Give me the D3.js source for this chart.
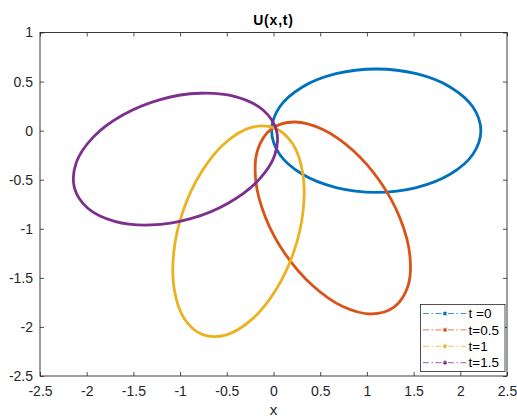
<!DOCTYPE html>
<html>
<head>
<meta charset="utf-8">
<script src="https://cdn.jsdelivr.net/npm/d3@7"></script>
<style>
  html, body { margin: 0; padding: 0; background: #fff; }
  svg { display: block; }
  text { font-family: "Liberation Sans", Arial, Helvetica, sans-serif; }
</style>
</head>
<body>
<svg id="chart" width="517" height="417"></svg>
<script>
// Series labels, one per time step
const seriesLabels = ["t =0", "t=0.5", "t=1", "t=1.5"];
const seriesColors = ["#0072BD", "#D95319", "#EDB120", "#7E2F8E"];

// Closed curves U(x,t): sampled [x, y] points around each loop
const curveT0 = [
  [2.220, 0.000], [2.135, 0.240], [1.890, 0.445], [1.530, 0.580], [1.100, 0.628], [0.670, 0.580],
  [0.310, 0.445], [0.065, 0.240], [-0.020, 0.000], [0.065, -0.240], [0.310, -0.445], [0.670, -0.580],
  [1.100, -0.628], [1.530, -0.580], [1.890, -0.445], [2.135, -0.240]
];
const curveT05 = [
  [1.294, -1.796], [1.439, -1.586], [1.460, -1.270], [1.356, -0.896], [1.143, -0.521], [0.852, -0.202],
  [0.528, 0.012], [0.221, 0.088], [-0.024, 0.016], [-0.169, -0.194], [-0.190, -0.510], [-0.086, -0.884],
  [0.127, -1.259], [0.418, -1.578], [0.742, -1.792], [1.049, -1.868]
];
const curveT1 = [
  [0.008, 0.028], [-0.247, 0.030], [-0.521, -0.129], [-0.773, -0.424], [-0.965, -0.810], [-1.067, -1.230],
  [-1.063, -1.617], [-0.955, -1.916], [-0.758, -2.078], [-0.503, -2.080], [-0.229, -1.921], [0.023, -1.626],
  [0.215, -1.240], [0.317, -0.820], [0.313, -0.433], [0.205, -0.134]
];
const curveT15 = [
  [0.032, 0.000], [-0.112, 0.210], [-0.400, 0.344], [-0.786, 0.381], [-1.213, 0.317], [-1.614, 0.159],
  [-1.930, -0.066], [-2.112, -0.326], [-2.132, -0.580], [-1.988, -0.790], [-1.700, -0.924], [-1.314, -0.961],
  [-0.887, -0.897], [-0.486, -0.739], [-0.170, -0.514], [0.012, -0.254]
];
const curves = [curveT0, curveT05, curveT1, curveT15];

// Axis ticks
const xTicks = [-2.5, -2, -1.5, -1, -0.5, 0, 0.5, 1, 1.5, 2, 2.5];
const yTicks = [-2.5, -2, -1.5, -1, -0.5, 0, 0.5, 1];
const xDomain = [-2.5, 2.5];
const yDomain = [-2.5, 1];

const svg = d3.select("#chart");
const plotLeft = 40, plotRight = 507, plotTop = 32.5, plotBottom = 376;
const axisColor = "#262626";

const x = d3.scaleLinear().domain(xDomain).range([plotLeft, plotRight]);
const y = d3.scaleLinear().domain(yDomain).range([plotBottom, plotTop]);

const fmt = d => String(d);

// Bottom axis with labels
const gx = svg.append("g").attr("transform", `translate(0,${plotBottom})`)
  .call(d3.axisBottom(x).tickValues(xTicks).tickFormat(fmt).tickSizeInner(-4).tickSizeOuter(0).tickPadding(10.5));
// Top axis, ticks only
const gxt = svg.append("g").attr("transform", `translate(0,${plotTop})`)
  .call(d3.axisTop(x).tickValues(xTicks).tickFormat("").tickSizeInner(-4).tickSizeOuter(0));
// Left axis with labels
const gy = svg.append("g").attr("transform", `translate(${plotLeft},0)`)
  .call(d3.axisLeft(y).tickValues(yTicks).tickFormat(fmt).tickSizeInner(-4).tickSizeOuter(0).tickPadding(7));
// Right axis, ticks only
const gyr = svg.append("g").attr("transform", `translate(${plotRight},0)`)
  .call(d3.axisRight(y).tickValues(yTicks).tickFormat("").tickSizeInner(-4).tickSizeOuter(0));

[gx, gxt, gy, gyr].forEach(g => {
  g.select(".domain").remove();
  g.selectAll(".tick line").attr("stroke", axisColor).attr("stroke-width", 0.8);
  g.selectAll(".tick text").attr("fill", axisColor).attr("font-size", 14);
});

// Curves
const line = d3.line()
  .x(d => x(d[0]))
  .y(d => y(d[1]))
  .curve(d3.curveCatmullRomClosed.alpha(0.5));

svg.append("g").selectAll("path")
  .data(curves)
  .join("path")
  .attr("d", line)
  .attr("fill", "none")
  .attr("stroke", (d, i) => seriesColors[i])
  .attr("stroke-width", 2.8);

// Axes box
svg.append("rect")
  .attr("x", plotLeft).attr("y", plotTop)
  .attr("width", plotRight - plotLeft).attr("height", plotBottom - plotTop)
  .attr("fill", "none").attr("stroke", axisColor).attr("stroke-width", 0.9);

// Title and axis label
svg.append("text")
  .attr("x", (plotLeft + plotRight) / 2).attr("y", 24.5)
  .attr("text-anchor", "middle").attr("font-size", 14).attr("font-weight", "bold")
  .attr("letter-spacing", 0.8)
  .attr("fill", "#000").text("U(x,t)");
svg.append("text")
  .attr("x", (plotLeft + plotRight) / 2).attr("y", 415)
  .attr("text-anchor", "middle").attr("font-size", 15)
  .attr("fill", axisColor).text("x");

// Legend
const lg = svg.append("g");
lg.append("rect")
  .attr("x", 420.5).attr("y", 304.5).attr("width", 84.5).attr("height", 67)
  .attr("fill", "#fff").attr("stroke", axisColor).attr("stroke-width", 0.8);
const rowY = i => 313.5 + i * 16.4;
const items = lg.selectAll("g.item").data(seriesLabels).join("g").attr("class", "item");
items.append("line")
  .attr("x1", 423).attr("x2", 467)
  .attr("y1", (d, i) => rowY(i)).attr("y2", (d, i) => rowY(i))
  .attr("stroke", (d, i) => seriesColors[i])
  .attr("stroke-opacity", 0.75)
  .attr("stroke-width", 1)
  .attr("stroke-dasharray", "6,2.5,1.5,2.5");
items.append("path")
  .attr("transform", (d, i) => `translate(445,${rowY(i)})`)
  .attr("d", d3.symbol(d3.symbolAsterisk, 12))
  .attr("fill", "none")
  .attr("stroke", (d, i) => seriesColors[i])
  .attr("stroke-width", 1.2);
items.append("text")
  .attr("x", 468.5).attr("y", (d, i) => rowY(i))
  .attr("dy", "0.35em")
  .attr("font-size", 13.5)
  .attr("fill", "#000")
  .text(d => d);
</script>
</body>
</html>
